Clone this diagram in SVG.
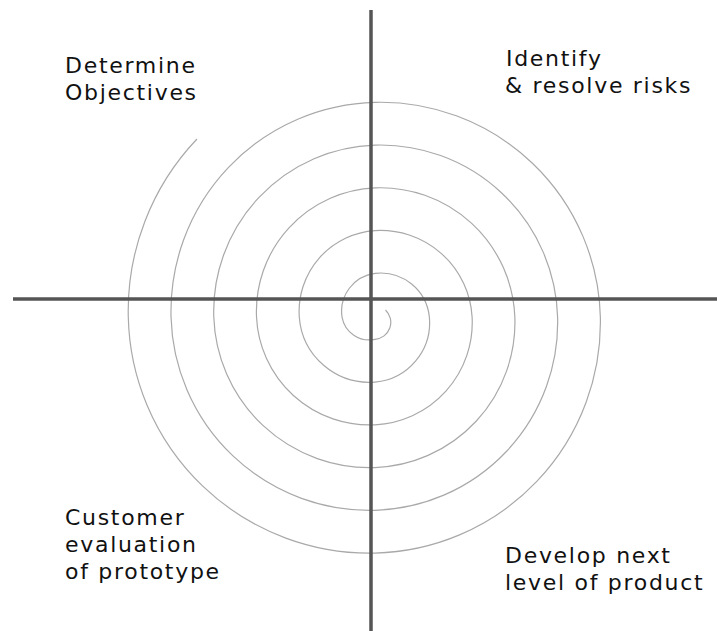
<svg xmlns="http://www.w3.org/2000/svg" width="717" height="631" viewBox="0 0 717 631">
  <style>
    .axis { stroke: #555555; stroke-width: 3.5; fill: none; }
    .spiral { stroke: #a9a9a9; stroke-width: 1.2; fill: none; }
    .label { font-family: "DejaVu Sans", Verdana, sans-serif; font-size: 22px; letter-spacing: 1.7px; fill: #111111; }
  </style>
  <rect width="717" height="631" fill="#ffffff"/>
  <g id="spiral">
    <path class="spiral" d="M 385.5 310 A 17 17 0 0 1 375 339.29 A 27.6 27.6 0 0 1 342.02 317 A 38.3 38.3 0 0 1 375 273.34 A 49 49 0 0 1 429.35 317 A 59.7 59.7 0 0 1 375 382.04 A 70.4 70.4 0 0 1 299.28 317 A 81.1 81.1 0 0 1 375 230.59 A 91.8 91.8 0 0 1 472.1 317 A 102.4 102.4 0 0 1 375 424.79 A 113.1 113.1 0 0 1 256.52 317 A 123.8 123.8 0 0 1 375 187.84 A 134.5 134.5 0 0 1 514.85 317 A 145.2 145.2 0 0 1 375 467.54 A 155.9 155.9 0 0 1 213.78 317 A 166.6 166.6 0 0 1 375 145.09 A 177.3 177.3 0 0 1 557.6 317 A 187.9 187.9 0 0 1 375 510.29 A 198.6 198.6 0 0 1 171.03 317 A 209.3 209.3 0 0 1 375 102.34 A 220 220 0 0 1 600.35 317 A 230.7 230.7 0 0 1 375 553.04 A 241.4 241.4 0 0 1 128.28 317 A 249.4 249.4 0 0 1 197 139"/>
  </g>
  <g id="axes">
    <line class="axis" x1="371" y1="10" x2="371" y2="631"/>
    <line class="axis" x1="13" y1="299" x2="717" y2="299"/>
  </g>
  <g id="determine-objectives">
    <text class="label" x="65" y="73">Determine</text>
    <text class="label" x="65" y="100">Objectives</text>
  </g>
  <g id="identify-resolve-risks">
    <text class="label" x="506" y="66">Identify</text>
    <text class="label" x="505" y="93">&amp; resolve risks</text>
  </g>
  <g id="customer-evaluation">
    <text class="label" x="65" y="525">Customer</text>
    <text class="label" x="65" y="552">evaluation</text>
    <text class="label" x="65" y="579">of prototype</text>
  </g>
  <g id="develop-next-level">
    <text class="label" x="505" y="563">Develop next</text>
    <text class="label" x="505" y="590">level of product</text>
  </g>
</svg>
